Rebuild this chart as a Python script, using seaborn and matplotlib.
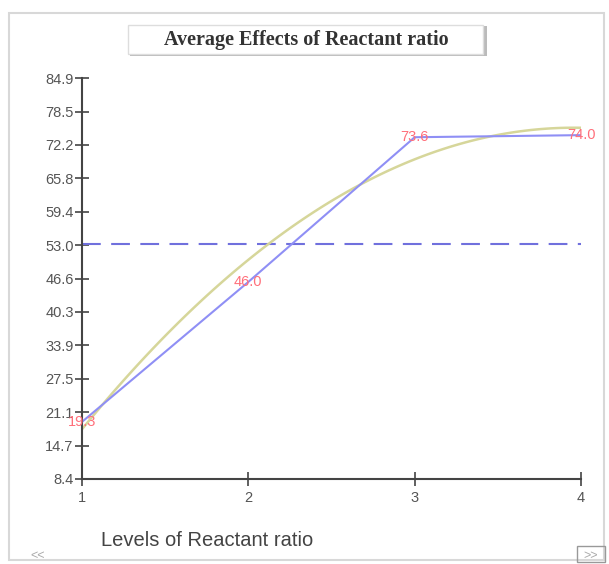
import numpy as np
import pandas as pd
import seaborn as sns
import matplotlib.pyplot as plt
from matplotlib.patches import Rectangle

levels = [1, 2, 3, 4]
avg_effect = [19.3, 46.0, 73.6, 74.0]
y_ticks = [8.4, 14.7, 21.1, 27.5, 33.9, 40.3, 46.6, 53.0, 59.4, 65.8, 72.2, 78.5, 84.9]
grand_mean = 53.2

df = pd.DataFrame({'level': levels, 'effect': avg_effect})

sns.set_style('white')
plt.rcParams['font.family'] = ['Liberation Sans', 'DejaVu Sans']

fig = plt.figure(figsize=(6.09, 5.64), dpi=100)
ax = fig.add_axes([82 / 609, 1 - 479 / 564, 499 / 609, 401 / 564])

# outer panel frame
fig.patches.append(Rectangle((9 / 609, 4 / 564), 595 / 609, 547 / 564, transform=fig.transFigure,
                             fill=False, edgecolor='#d8d8d8', linewidth=1.5))

# mean line
ax.axhline(grand_mean, color='#7070dd', linestyle=(0, (9, 5)), linewidth=1.5)

# quadratic trend
sns.regplot(data=df, x='level', y='effect', order=2, ci=None, scatter=False, truncate=True,
            line_kws={'color': '#d6d69a', 'linewidth': 1.8}, ax=ax)

# average effects
sns.lineplot(data=df, x='level', y='effect', color='#8f8ff5', linewidth=1.5, ax=ax)

for x, y in zip(levels, avg_effect):
    ax.text(x, y, f'{y:.1f}', color='#ff6f7a', fontsize=10.5, ha='center', va='center')

ax.set_xlim(1, 4)
ax.set_ylim(8.4, 84.9)
ax.set_xticks(levels)
ax.set_yticks(y_ticks)
ax.set_yticklabels([f'{t:.1f}' for t in y_ticks])
ax.tick_params(axis='both', direction='inout', length=10, width=1.2, color='#444444',
               labelcolor='#555555', labelsize=10.5)
ax.tick_params(axis='x', pad=4)
ax.tick_params(axis='y', pad=1)
ax.tick_params(axis='both', which='both', left=True, bottom=True)
sns.despine(ax=ax)
for s in ['left', 'bottom']:
    ax.spines[s].set_color('#444444')
    ax.spines[s].set_linewidth(1.5)
ax.set_xlabel('')
ax.set_ylabel('')

# title box with shadow
fig.patches.append(Rectangle((130 / 609, 1 - 56 / 564), 357 / 609, 30 / 564, transform=fig.transFigure,
                             facecolor='#bbbbbb', edgecolor='none', zorder=0))
fig.patches.append(Rectangle((128 / 609, 1 - 54 / 564), 355 / 609, 29 / 564, transform=fig.transFigure,
                             facecolor='white', edgecolor='#dddddd', zorder=1))
fig.text(306 / 609, 1 - 40 / 564, 'Average Effects of Reactant ratio', ha='center', va='center',
         fontsize=14.5, fontweight='bold', family='Liberation Serif', color='#333333', zorder=2)

fig.text(101 / 609, 1 - 540 / 564, 'Levels of Reactant ratio', ha='left', va='center',
         fontsize=14.5, color='#444444')
fig.text(30 / 609, 1 - 556 / 564, '<<', ha='left', va='center', fontsize=9, color='#aaaaaa')
fig.patches.append(Rectangle((577 / 609, 2 / 564), 28 / 609, 16 / 564, transform=fig.transFigure,
                             fill=False, edgecolor='#999999', linewidth=1))
fig.text(591 / 609, 1 - 556 / 564, '>>', ha='center', va='center', fontsize=9, color='#aaaaaa')

fig.savefig('out.png', dpi=100)
